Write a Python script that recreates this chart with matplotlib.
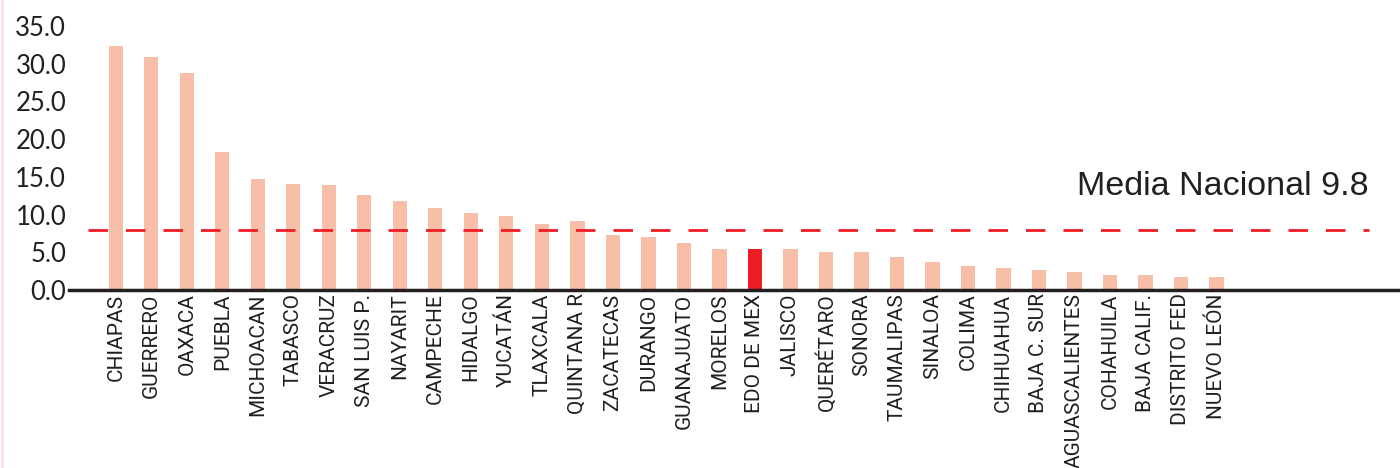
#!/usr/bin/env python3
import matplotlib
matplotlib.use("Agg")
import matplotlib.pyplot as plt
from matplotlib import font_manager
from matplotlib.lines import Line2D

# data
states = ["CHIAPAS", "GUERRERO", "OAXACA", "PUEBLA", "MICHOACAN", "TABASCO",
          "VERACRUZ", "SAN LUIS P.", "NAYARIT", "CAMPECHE", "HIDALGO", "YUCATÁN",
          "TLAXCALA", "QUINTANA R", "ZACATECAS", "DURANGO", "GUANAJUATO", "MORELOS",
          "EDO DE MEX", "JALISCO", "QUERÉTARO", "SONORA", "TAUMALIPAS", "SINALOA",
          "COLIMA", "CHIHUAHUA", "BAJA C. SUR", "AGUASCALIENTES", "COHAHUILA",
          "BAJA CALIF.", "DISTRITO FED", "NUEVO LEÓN"]
values = [32.4, 30.9, 28.8, 18.3, 14.7, 14.1, 13.9, 12.6, 11.8, 10.9, 10.2, 9.8,
          8.8, 9.2, 7.3, 7.0, 6.2, 5.4, 5.4, 5.4, 5.0, 5.0, 4.4, 3.7, 3.2, 2.9,
          2.65, 2.4, 2.0, 2.0, 1.7, 1.7]
highlight = "EDO DE MEX"
media_line = 7.9
media_label = "Media Nacional 9.8"
yticks = [0, 5, 10, 15, 20, 25, 30, 35]

salmon = "#F8BFA8"
red = "#EE1C25"
dark = "#231F20"

# narrow font for the state names if it is there
try:
    font_manager.findfont("Liberation Sans Narrow", fallback_to_default=False)
    label_font, label_size = "Liberation Sans Narrow", 16
except ValueError:
    label_font, label_size = "Roboto", 15

fig = plt.figure(figsize=(14, 4.68), dpi=100)
ax = fig.add_axes([69 / 1400, 1 - 290 / 468, 1 - 69 / 1400, (290 - 26) / 468])

x = list(range(len(states)))
colors = [red if s == highlight else salmon for s in states]
ax.bar(x, values, width=0.4, color=colors, zorder=2)

ax.plot([-0.79, 35.3], [media_line, media_line], color=red, lw=2,
        dashes=(7, 6.5), zorder=3)
ax.text(35.3, media_line + 4.7, media_label, ha="right", va="baseline",
        fontsize=24.5, color=dark, family=["Liberation Sans", "DejaVu Sans"])

ax.set_xlim(-1.32, 36.17)
ax.set_ylim(0, 35)

ax.set_yticks(yticks)
ax.set_yticklabels([f"{v:.1f}" for v in yticks], fontsize=18.5, color=dark,
                   family=["Lato", "DejaVu Sans"])
ax.set_xticks(x)
ax.set_xticklabels(states, rotation=90, fontsize=label_size, color=dark,
                   family=[label_font, "DejaVu Sans"])
ax.tick_params(axis="both", length=0)
ax.tick_params(axis="y", pad=2)
ax.tick_params(axis="x", pad=2.5)

for side in ["top", "right", "left"]:
    ax.spines[side].set_visible(False)
ax.spines["bottom"].set_color(dark)
ax.spines["bottom"].set_linewidth(2.5)
ax.spines["bottom"].set_zorder(4)

# faint pink border on the left edge
fig.add_artist(Line2D([0.0015, 0.0015], [0, 1], transform=fig.transFigure,
                      color="#FBE3E3", lw=2))

fig.savefig("out.png", dpi=100)
